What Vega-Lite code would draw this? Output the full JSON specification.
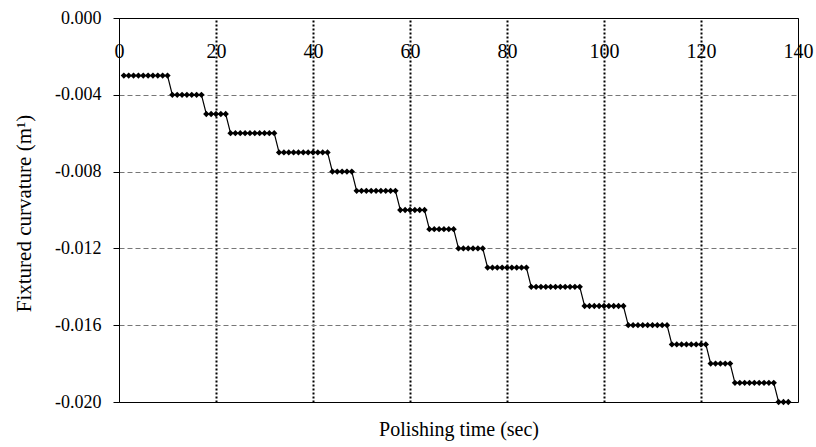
{
  "$schema": "https://vega.github.io/schema/vega-lite/v6.json",
  "autosize": "none",
  "width": 679,
  "height": 384,
  "padding": {"left": 119, "top": 18, "right": 18, "bottom": 45},
  "background": "white",
  "config": {
    "view": {"stroke": "black", "strokeWidth": 1},
    "font": "Liberation Serif"
  },
  "data": {"values": [
    {"t":1,"c":-0.003},{"t":2,"c":-0.003},{"t":3,"c":-0.003},{"t":4,"c":-0.003},{"t":5,"c":-0.003},{"t":6,"c":-0.003},{"t":7,"c":-0.003},{"t":8,"c":-0.003},{"t":9,"c":-0.003},{"t":10,"c":-0.003},
    {"t":11,"c":-0.004},{"t":12,"c":-0.004},{"t":13,"c":-0.004},{"t":14,"c":-0.004},{"t":15,"c":-0.004},{"t":16,"c":-0.004},{"t":17,"c":-0.004},
    {"t":18,"c":-0.005},{"t":19,"c":-0.005},{"t":20,"c":-0.005},{"t":21,"c":-0.005},{"t":22,"c":-0.005},
    {"t":23,"c":-0.006},{"t":24,"c":-0.006},{"t":25,"c":-0.006},{"t":26,"c":-0.006},{"t":27,"c":-0.006},{"t":28,"c":-0.006},{"t":29,"c":-0.006},{"t":30,"c":-0.006},{"t":31,"c":-0.006},{"t":32,"c":-0.006},
    {"t":33,"c":-0.007},{"t":34,"c":-0.007},{"t":35,"c":-0.007},{"t":36,"c":-0.007},{"t":37,"c":-0.007},{"t":38,"c":-0.007},{"t":39,"c":-0.007},{"t":40,"c":-0.007},{"t":41,"c":-0.007},{"t":42,"c":-0.007},{"t":43,"c":-0.007},
    {"t":44,"c":-0.008},{"t":45,"c":-0.008},{"t":46,"c":-0.008},{"t":47,"c":-0.008},{"t":48,"c":-0.008},
    {"t":49,"c":-0.009},{"t":50,"c":-0.009},{"t":51,"c":-0.009},{"t":52,"c":-0.009},{"t":53,"c":-0.009},{"t":54,"c":-0.009},{"t":55,"c":-0.009},{"t":56,"c":-0.009},{"t":57,"c":-0.009},
    {"t":58,"c":-0.010},{"t":59,"c":-0.010},{"t":60,"c":-0.010},{"t":61,"c":-0.010},{"t":62,"c":-0.010},{"t":63,"c":-0.010},
    {"t":64,"c":-0.011},{"t":65,"c":-0.011},{"t":66,"c":-0.011},{"t":67,"c":-0.011},{"t":68,"c":-0.011},{"t":69,"c":-0.011},
    {"t":70,"c":-0.012},{"t":71,"c":-0.012},{"t":72,"c":-0.012},{"t":73,"c":-0.012},{"t":74,"c":-0.012},{"t":75,"c":-0.012},
    {"t":76,"c":-0.013},{"t":77,"c":-0.013},{"t":78,"c":-0.013},{"t":79,"c":-0.013},{"t":80,"c":-0.013},{"t":81,"c":-0.013},{"t":82,"c":-0.013},{"t":83,"c":-0.013},{"t":84,"c":-0.013},
    {"t":85,"c":-0.014},{"t":86,"c":-0.014},{"t":87,"c":-0.014},{"t":88,"c":-0.014},{"t":89,"c":-0.014},{"t":90,"c":-0.014},{"t":91,"c":-0.014},{"t":92,"c":-0.014},{"t":93,"c":-0.014},{"t":94,"c":-0.014},{"t":95,"c":-0.014},
    {"t":96,"c":-0.015},{"t":97,"c":-0.015},{"t":98,"c":-0.015},{"t":99,"c":-0.015},{"t":100,"c":-0.015},{"t":101,"c":-0.015},{"t":102,"c":-0.015},{"t":103,"c":-0.015},{"t":104,"c":-0.015},
    {"t":105,"c":-0.016},{"t":106,"c":-0.016},{"t":107,"c":-0.016},{"t":108,"c":-0.016},{"t":109,"c":-0.016},{"t":110,"c":-0.016},{"t":111,"c":-0.016},{"t":112,"c":-0.016},{"t":113,"c":-0.016},
    {"t":114,"c":-0.017},{"t":115,"c":-0.017},{"t":116,"c":-0.017},{"t":117,"c":-0.017},{"t":118,"c":-0.017},{"t":119,"c":-0.017},{"t":120,"c":-0.017},{"t":121,"c":-0.017},
    {"t":122,"c":-0.018},{"t":123,"c":-0.018},{"t":124,"c":-0.018},{"t":125,"c":-0.018},{"t":126,"c":-0.018},
    {"t":127,"c":-0.019},{"t":128,"c":-0.019},{"t":129,"c":-0.019},{"t":130,"c":-0.019},{"t":131,"c":-0.019},{"t":132,"c":-0.019},{"t":133,"c":-0.019},{"t":134,"c":-0.019},{"t":135,"c":-0.019},
    {"t":136,"c":-0.020},{"t":137,"c":-0.020},{"t":138,"c":-0.020}
  ]},
  "mark": {
    "type": "line",
    "color": "black",
    "strokeWidth": 1.2,
    "point": {"shape": "diamond", "size": 40, "filled": true, "color": "black"}
  },
  "encoding": {
    "x": {
      "field": "t",
      "type": "quantitative",
      "scale": {"domain": [0, 140], "nice": false, "zero": false},
      "axis": {
        "orient": "top",
        "values": [0, 20, 40, 60, 80, 100, 120, 140],
        "title": "Polishing time (sec)",
        "titleFont": "Liberation Serif",
        "titleFontSize": 20,
        "titleFontWeight": "normal",
        "titleColor": "black",
        "titleY": 417,
        "titleBaseline": "alphabetic",
        "labelFont": "Liberation Serif",
        "labelFontSize": 20,
        "labelColor": "black",
        "labelBaseline": "alphabetic",
        "labelPadding": -39,
        "labelFlush": false,
        "labelOverlap": false,
        "ticks": false,
        "tickSize": 0,
        "domainColor": "black",
        "grid": true,
        "gridColor": "black",
        "gridWidth": 2,
        "gridDash": [2, 2],
        "gridOpacity": {"condition": {"test": "datum.value == 0 || datum.value == 140", "value": 0}, "value": 1}
      }
    },
    "y": {
      "field": "c",
      "type": "quantitative",
      "scale": {"domain": [-0.02, 0], "nice": false, "zero": false},
      "axis": {
        "values": [-0.02, -0.016, -0.012, -0.008, -0.004, 0],
        "labelExpr": "replace(format(datum.value, '.3f'), '\u2212', '-')",
        "title": "Fixtured curvature (m¹)",
        "titleFont": "Liberation Serif",
        "titleFontSize": 21,
        "titleFontWeight": "normal",
        "titleColor": "black",
        "titleX": -95,
        "titleY": 195,
        "titleBaseline": "middle",
        "titleAlign": "center",
        "titleAngle": -90,
        "labelFont": "Liberation Serif",
        "labelFontSize": 18,
        "labelColor": "black",
        "labelPadding": 12,
        "labelFlush": false,
        "labelOverlap": false,
        "ticks": true,
        "tickSize": 6,
        "tickColor": "black",
        "domainColor": "black",
        "grid": true,
        "gridColor": "#777777",
        "gridWidth": 1,
        "gridDash": [5, 3],
        "gridOpacity": {"condition": {"test": "datum.value == 0 || datum.value == -0.02", "value": 0}, "value": 1}
      }
    }
  }
}
